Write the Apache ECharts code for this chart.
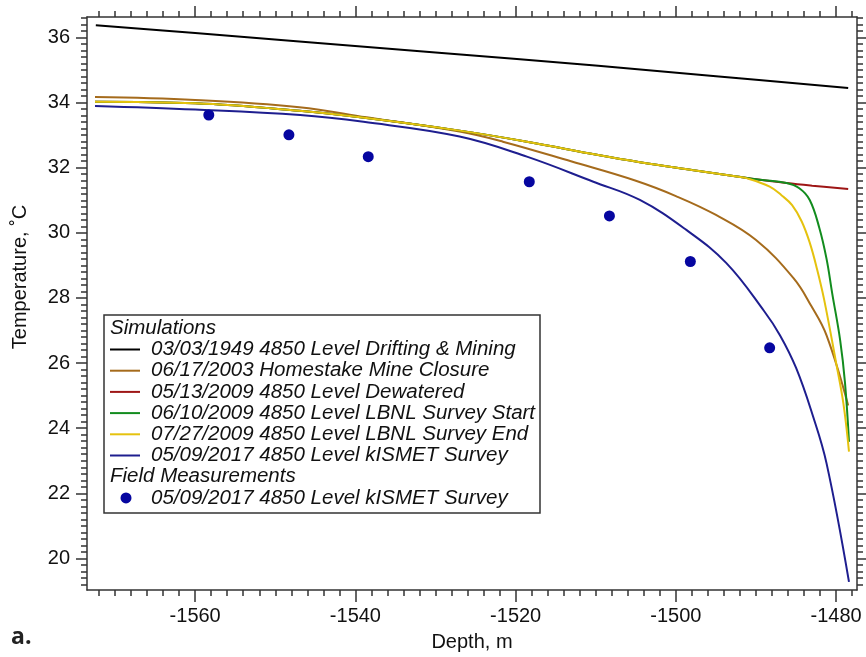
<!DOCTYPE html>
<html>
<head>
<meta charset="utf-8">
<title>4850 Level temperature profiles</title>
<script src="https://cdn.jsdelivr.net/npm/echarts@6/dist/echarts.min.js"></script>
<style>
  html, body { margin: 0; padding: 0; background: #fff; }
  #chart { width: 866px; height: 657px; }
</style>
</head>
<body>
<div id="chart"></div>
<script>
// Simulated temperature profiles along the 4850 Level drift (depth in m, temperature in °C)
const drift1949X = [-1572.4, -1560, -1547, -1530, -1509.7, -1495, -1478.5];
const drift1949Y = [36.38, 36.14, 35.88, 35.54, 35.13, 34.81, 34.45];

const closure2003X = [-1572.5, -1560, -1547, -1538.6, -1527, -1521.6, -1513, -1505, -1500, -1495, -1490, -1485.3, -1483.1, -1481.2, -1478.5];
const closure2003Y = [34.17, 34.08, 33.86, 33.55, 33.11, 32.80, 32.19, 31.6, 31.13, 30.55, 29.78, 28.6, 27.75, 26.85, 24.7];

const dewatered2009X = [-1572.5, -1560, -1547, -1539.4, -1527, -1518.6, -1509.7, -1504.5, -1498, -1492.4, -1489.5, -1486.2, -1483, -1478.5];
const dewatered2009Y = [34.03, 33.98, 33.75, 33.55, 33.14, 32.80, 32.39, 32.17, 31.93, 31.73, 31.63, 31.53, 31.45, 31.35];

const surveyStart2009X = [-1572.5, -1560, -1547, -1539.4, -1527, -1518.6, -1509.7, -1504.5, -1498, -1492.4, -1489.5, -1486.2, -1484.6, -1483.3, -1482.1, -1481.2, -1480.5, -1479.5, -1478.9, -1478.4];
const surveyStart2009Y = [34.03, 33.98, 33.75, 33.55, 33.14, 32.80, 32.39, 32.17, 31.93, 31.73, 31.63, 31.53, 31.37, 31.01, 30.15, 29.2, 28.15, 26.7, 25.4, 23.58];

const surveyEnd2009X = [-1572.5, -1560, -1547, -1539.4, -1527, -1518.6, -1509.7, -1504.5, -1498, -1492.4, -1491.2, -1488.3, -1486.8, -1485.5, -1484.3, -1483.3, -1482.4, -1481.5, -1480.0, -1479.1, -1478.4];
const surveyEnd2009Y = [34.03, 33.98, 33.75, 33.55, 33.14, 32.80, 32.39, 32.17, 31.93, 31.73, 31.68, 31.42, 31.15, 30.85, 30.35, 29.7, 28.9, 27.95, 26.0, 24.76, 23.28];

const kismet2017X = [-1572.5, -1560, -1546.9, -1539, -1527, -1518.6, -1510.3, -1504.5, -1498.7, -1493.7, -1489, -1487, -1485, -1483, -1481.2, -1478.4];
const kismet2017Y = [33.90, 33.79, 33.62, 33.41, 32.96, 32.34, 31.57, 31.01, 30.09, 29.07, 27.6, 26.85, 25.85, 24.45, 22.92, 19.28];

// Field measurements, 05/09/2017 kISMET survey
const fieldX = [-1558.3, -1548.3, -1538.4, -1518.3, -1508.3, -1498.2, -1488.3];
const fieldY = [33.62, 33.01, 32.34, 31.57, 30.52, 29.12, 26.47];

// Legend entries
const simNames = [
  '03/03/1949 4850 Level Drifting & Mining',
  '06/17/2003 Homestake Mine Closure',
  '05/13/2009 4850 Level Dewatered',
  '06/10/2009 4850 Level LBNL Survey Start',
  '07/27/2009 4850 Level LBNL Survey End',
  '05/09/2017 4850 Level kISMET Survey'
];
const fieldName = '05/09/2017 4850 Level kISMET Survey';

// Axis ticks
const depthTicks = [-1560, -1540, -1520, -1500, -1480];
const tempTicks = [20, 22, 24, 26, 28, 30, 32, 34, 36];

const depthMin = -1573.5, depthMax = -1477.4;
const tempMin = 19.03, tempMax = 36.63;

const depthMinor = [];
for (let v = -1572; v <= -1478; v += 2) depthMinor.push(v);
const tempMinor = [];
for (let v = 192; v <= 366; v += 2) tempMinor.push(v / 10);

const colors = ['#000000', '#a56b1c', '#9e1616', '#128c1e', '#e5c20e', '#1e1e8f'];
const dotColor = '#0606a0';
const FONT = "'Liberation Sans', Arial, Helvetica, sans-serif";
const AXIS = '#333333';

const simX = [drift1949X, closure2003X, dewatered2009X, surveyStart2009X, surveyEnd2009X, kismet2017X];
const simY = [drift1949Y, closure2003Y, dewatered2009Y, surveyStart2009Y, surveyEnd2009Y, kismet2017Y];

function pairs(xs, ys) { return xs.map((x, i) => [x, ys[i]]); }

const series = simNames.map((name, k) => ({
  name: name,
  type: 'line',
  xAxisIndex: 0,
  yAxisIndex: 0,
  data: pairs(simX[k], simY[k]),
  showSymbol: false,
  smooth: 0.4,
  lineStyle: { color: colors[k], width: 2 },
  itemStyle: { color: colors[k] },
  z: 2 + k
}));
series.push({
  name: 'Field ' + fieldName,
  type: 'scatter',
  xAxisIndex: 0,
  yAxisIndex: 0,
  data: pairs(fieldX, fieldY),
  symbol: 'circle',
  symbolSize: 11,
  itemStyle: { color: dotColor, opacity: 1 },
  z: 10
});

function xAxisDef(position, ticks, len, withLabels, showLine) {
  return {
    type: 'value', position: position, min: depthMin, max: depthMax,
    axisLine: { show: showLine, onZero: false, lineStyle: { color: AXIS, width: 1.5 } },
    axisTick: { show: true, inside: false, length: len, customValues: ticks, lineStyle: { color: AXIS, width: 1.5 } },
    axisLabel: withLabels
      ? { show: true, customValues: depthTicks, margin: 16, color: '#111', fontSize: 20, fontFamily: FONT,
          formatter: v => String(v) }
      : { show: false },
    splitLine: { show: false }
  };
}
function yAxisDef(position, ticks, len, withLabels, showLine) {
  return {
    type: 'value', position: position, min: tempMin, max: tempMax,
    axisLine: { show: showLine, onZero: false, lineStyle: { color: AXIS, width: 1.5 } },
    axisTick: { show: true, inside: false, length: len, customValues: ticks, lineStyle: { color: AXIS, width: 1.5 } },
    axisLabel: withLabels
      ? { show: true, customValues: tempTicks, margin: 17, color: '#111', fontSize: 20, fontFamily: FONT,
          formatter: v => String(v) }
      : { show: false },
    splitLine: { show: false }
  };
}

// Legend box drawn from the series names and colours
const LX = 104, LY = 315, LW = 436, LH = 198;
const LFONT = 'italic 20.5px ' + FONT;
const rowY = i => 328.3 + 21.2 * i;
const legendItems = [
  { type: 'rect', shape: { x: LX, y: LY, width: LW, height: LH },
    style: { fill: '#fff', stroke: AXIS, lineWidth: 1.5 } },
  { type: 'text', x: 110, y: rowY(0),
    style: { text: 'Simulations', font: LFONT, fill: '#111', verticalAlign: 'middle' } }
];
simNames.forEach((name, k) => {
  legendItems.push({ type: 'line', shape: { x1: 110, y1: rowY(k + 1), x2: 140, y2: rowY(k + 1) },
    style: { stroke: colors[k], lineWidth: 2 } });
  legendItems.push({ type: 'text', x: 151, y: rowY(k + 1),
    style: { text: name, font: LFONT, fill: '#111', verticalAlign: 'middle' } });
});
legendItems.push({ type: 'text', x: 110, y: rowY(7),
  style: { text: 'Field Measurements', font: LFONT, fill: '#111', verticalAlign: 'middle' } });
legendItems.push({ type: 'circle', shape: { cx: 126, cy: rowY(8), r: 5.5 }, style: { fill: dotColor } });
legendItems.push({ type: 'text', x: 151, y: rowY(8),
  style: { text: fieldName, font: LFONT, fill: '#111', verticalAlign: 'middle' } });

const chart = echarts.init(document.getElementById('chart'), null, { renderer: 'canvas' });
chart.setOption({
  animation: false,
  backgroundColor: '#ffffff',
  grid: { left: 87, top: 17, width: 770, height: 573, outerBoundsMode: 'none', containLabel: false },
  xAxis: [
    xAxisDef('bottom', depthTicks, 12, true, true),
    xAxisDef('bottom', depthMinor, 6, false, false),
    xAxisDef('top', depthTicks, 11, false, true),
    xAxisDef('top', depthMinor, 6, false, false)
  ],
  yAxis: [
    yAxisDef('left', tempTicks, 11, true, true),
    yAxisDef('left', tempMinor, 6, false, false),
    yAxisDef('right', tempTicks, 10, false, true),
    yAxisDef('right', tempMinor, 6, false, false)
  ],
  series: series,
  graphic: [
    { type: 'text', x: 472, y: 642, z: 100,
      style: { text: 'Depth, m', font: '20px ' + FONT, fill: '#111', align: 'center', verticalAlign: 'middle' } },
    { type: 'text', x: 20, y: 277, rotation: Math.PI / 2, z: 100,
      style: { text: 'Temperature, ˚C', font: '20px ' + FONT, fill: '#111', align: 'center', verticalAlign: 'middle' } },
    { type: 'text', x: 11, y: 637, z: 100,
      style: { text: 'a.', font: 'bold 23px "Open Sans", ' + FONT, fill: '#222', verticalAlign: 'middle' } },
    { type: 'group', z: 50, children: legendItems }
  ]
});
</script>
</body>
</html>
